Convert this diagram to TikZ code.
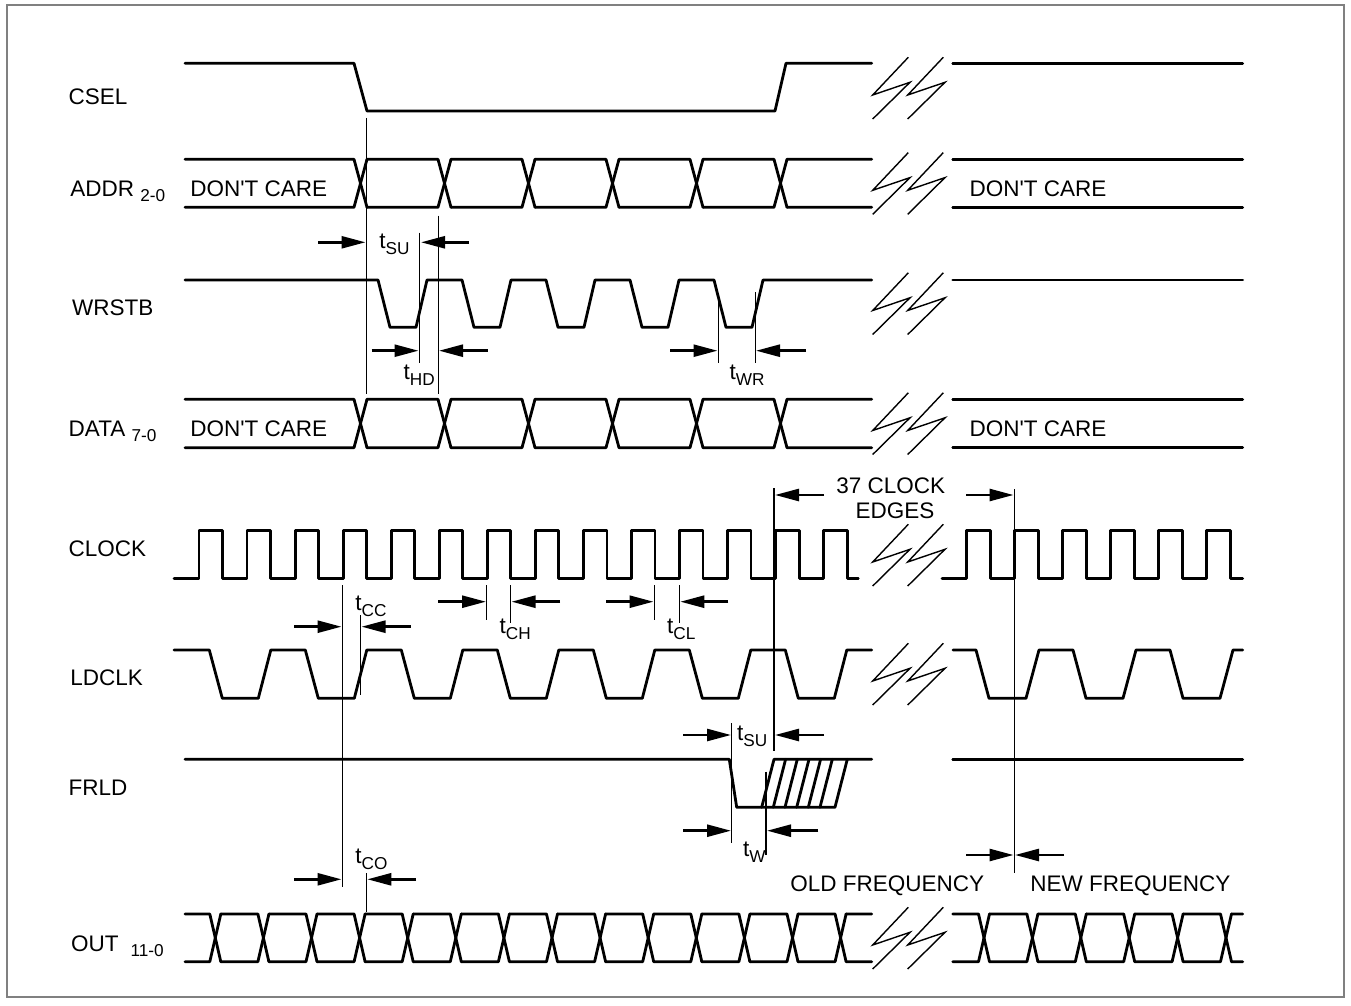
\documentclass[tikz,border=0pt]{standalone}
\usepackage{fontspec}
\setmainfont{Liberation Sans}
\usepackage{tikz}
\usetikzlibrary{arrows.meta}

\newcommand{\tlab}[1]{t\raisebox{-3pt}{\fontsize{8.6}{9}\selectfont #1}}
\newcommand{\sublab}[1]{\raisebox{-2.5pt}{\fontsize{8.6}{9}\selectfont #1}}

\tikzset{
  sig/.style={line width=1.4pt, line join=round, line cap=round},
  guide/.style={line width=.6pt},
  zig/.style={line width=.7pt},
  dimarrow/.style={line width=1.3pt, -{Triangle[length=12pt,width=6pt]}},
  txt/.style={anchor=base west, inner sep=0pt, font=\fontsize{11.25}{13}\selectfont},
}

\begin{document}
\begin{tikzpicture}[x=0.5pt,y=-0.5pt]
    \useasboundingbox (0,0) rectangle (1351,1006);
    \draw[line width=.75pt, gray] (7,5) rectangle (1344,997);

    % signal names
    \node[txt] (csel) at (68.3,105) {CSEL};
    \node[txt] (addr) at (70,196.7) {ADDR \sublab{2-0}};
    \node[txt] (wrstb) at (71.7,315) {WRSTB};
    \node[txt] (data) at (68.3,436.7) {DATA \sublab{7-0}};
    \node[txt] (clock) at (68.3,556) {CLOCK};
    \node[txt] (ldclk) at (70,685) {LDCLK};
    \node[txt] (frld) at (68.3,795) {FRLD};
    \node[txt] (out) at (70.7,951) {OUT\hspace{6pt}\sublab{11-0}};

    % CSEL
    \draw[sig] (185,63.3) -- (354,63.3) -- (367,111) -- (775,111) -- (786,63.3) -- (871.7,63.3);
    \draw[sig] (952.7,63.3) -- (1242.7,63.3);

    % ADDR and DATA buses
    \foreach \t/\b in {159.3/207.3,399.3/447.7} {
      \draw[sig] (185,\t) foreach \k in {0,...,5} {-- (354+84*\k,\t) -- (367+84*\k,\b) (367+84*\k,\t)} -- (871.7,\t);
      \draw[sig] (185,\b) foreach \k in {0,...,5} {-- (354+84*\k,\b) -- (367+84*\k,\t) (367+84*\k,\b)} -- (871.7,\b);
      \draw[sig] (952.7,\t) -- (1242.7,\t) (952.7,\b) -- (1242.7,\b);
    }
    \node[txt] (dc1) at (190,196.7) {DON\textquotesingle T CARE};
    \node[txt] (dc2) at (969.3,196.7) {DON\textquotesingle T CARE};
    \node[txt] (dc3) at (190,436.7) {DON\textquotesingle T CARE};
    \node[txt] (dc4) at (969.3,436.7) {DON\textquotesingle T CARE};

    % WRSTB
    \draw[sig] (185,280) foreach \k in {0,...,4} {-- (378+84*\k,280) -- (390+84*\k,327.3) -- (416+84*\k,327.3) -- (427+84*\k,280)} -- (871.7,280);
    \draw[sig] (952.7,280) -- (1242.7,280);

    % CLOCK
    \draw[sig] (174,578.3) foreach \k in {0,...,13} {-- (199+48.05*\k,578.3) -- (199+48.05*\k,530.7) -- (222.5+48.05*\k,530.7) -- (222.5+48.05*\k,578.3)} -- (858.3,578.3);
    \draw[sig] (942,578.3) foreach \k in {0,...,5} {-- (966.7+48*\k,578.3) -- (966.7+48*\k,530.7) -- (990.7+48*\k,530.7) -- (990.7+48*\k,578.3)} -- (1242.7,578.3);

    % LDCLK
    \draw[sig] (174,650) foreach \k in {0,...,6} {-- (209.3+96*\k,650) -- (222.3+96*\k,698.3) -- (258.3+96*\k,698.3) -- (270.8+96*\k,650)} -- (871.7,650);
    \draw[sig] (953,650) foreach \k in {0,...,2} {-- (976+97*\k,650) -- (989+97*\k,698.3) -- (1026+97*\k,698.3) -- (1039+97*\k,650)} -- (1242.7,650);

    % FRLD
    \draw[sig] (185,759.3) -- (729.3,759.3) -- (736.7,807.3) -- (835,807.3) -- (847.3,759.3);
    \draw[sig] (761.7,807.3) -- (774,759.3) -- (871.7,759.3);
    \foreach \x in {773.3,785,796.7,808.3,820} \draw[sig] (\x,807.3) -- (\x+12.3,759.3);
    \draw[sig] (952.7,759.3) -- (1242.7,759.3);

    % OUT bus
    \draw[sig] (185,914) foreach \k in {0,...,13} {-- (209.8+48.1*\k,914) -- (220.8+48.1*\k,961.7) (220.8+48.1*\k,914)} -- (871.7,914);
    \draw[sig] (185,961.7) foreach \k in {0,...,13} {-- (209.8+48.1*\k,961.7) -- (220.8+48.1*\k,914) (220.8+48.1*\k,961.7)} -- (871.7,961.7);
    \draw[sig] (952.7,914) foreach \k in {0,...,5} {-- (978.5+48.4*\k,914) -- (989.5+48.4*\k,961.7) (989.5+48.4*\k,914)} -- (1242.7,914);
    \draw[sig] (952.7,961.7) foreach \k in {0,...,5} {-- (978.5+48.4*\k,961.7) -- (989.5+48.4*\k,914) (989.5+48.4*\k,961.7)} -- (1242.7,961.7);

    % breaks
    \foreach \cy in {88,183.3,303.5,423.5,555,674,938}
      \foreach \x in {872.7,907.7}
        \draw[zig] (\x+35.6,\cy-30.7) -- (\x,\cy+7) -- (\x+37.3,\cy-5.7) -- (\x,\cy+31);

    % guide lines
    \draw[guide] (366.7,118) -- (366.7,394) (438.5,215.7) -- (438.5,394)
      (419.5,232.7) -- (419.5,363) (718.3,293) -- (718.3,363) (755.3,292) -- (755.3,363)
      (774,488.3) -- (774,750.7) (1014.3,489.3) -- (1014.3,873.3)
      (342.3,585) -- (342.3,886.7) (360.7,615) -- (360.7,695)
      (486.7,585) -- (486.7,620) (510.5,585) -- (510.5,623)
      (654.3,585) -- (654.3,620) (679.5,585) -- (679.5,623)
      (731.7,723.3) -- (731.7,843.3) (766,771.7) -- (766,855)
      (366.5,873.3) -- (366.5,911.7);

    % timing arrows
    \draw[dimarrow] (318,242.3) -- (365.5,242.3);
    \draw[dimarrow] (469,242.3) -- (421,242.3);
    \draw[dimarrow] (371.7,350.7) -- (418.5,350.7);
    \draw[dimarrow] (487.7,350.7) -- (439,350.7);
    \draw[dimarrow] (670,350.7) -- (717.5,350.7);
    \draw[dimarrow] (806,350.7) -- (756,350.7);
    \draw[dimarrow] (824,495) -- (775,495);
    \draw[dimarrow] (966,495) -- (1013.5,495);
    \draw[dimarrow] (294,626.7) -- (341.5,626.7);
    \draw[dimarrow] (410.7,626.7) -- (361.5,626.7);
    \draw[dimarrow] (438.3,601.7) -- (486,601.7);
    \draw[dimarrow] (560,601.7) -- (511.5,601.7);
    \draw[dimarrow] (606,601.7) -- (653.5,601.7);
    \draw[dimarrow] (728.3,601.7) -- (680.3,601.7);
    \draw[dimarrow] (683.3,735) -- (731,735);
    \draw[dimarrow] (824,735) -- (775,735);
    \draw[dimarrow] (683.3,830.7) -- (731,830.7);
    \draw[dimarrow] (818.3,830.7) -- (767,830.7);
    \draw[dimarrow] (966,855) -- (1013.5,855);
    \draw[dimarrow] (1064,855) -- (1015,855);
    \draw[dimarrow] (294,879.3) -- (341.5,879.3);
    \draw[dimarrow] (416,879.3) -- (367.3,879.3);

    % timing labels
    \node[txt] (tsu1) at (379,248.3) {\tlab{SU}};
    \node[txt] (thd) at (403.3,379.3) {\tlab{HD}};
    \node[txt] (twr) at (729.3,379.3) {\tlab{WR}};
    \node[txt] (tcc) at (355,610) {\tlab{CC}};
    \node[txt] (tch) at (499.3,633.3) {\tlab{CH}};
    \node[txt] (tcl) at (666.7,633.3) {\tlab{CL}};
    \node[txt] (tsu2) at (736.7,740) {\tlab{SU}};
    \node[txt] (tw) at (742.7,856.7) {\tlab{W}};
    \node[txt] (tco) at (355,863.3) {\tlab{CO}};
    \node[txt, anchor=base] (clk37) at (890.8,493.3) {37 CLOCK};
    \node[txt, anchor=base] (edges) at (895,518.3) {EDGES};
    \node[txt] (oldf) at (790,891.7) {OLD FREQUENCY};
    \node[txt] (newf) at (1030,891.7) {NEW FREQUENCY};
\end{tikzpicture}
\end{document}
